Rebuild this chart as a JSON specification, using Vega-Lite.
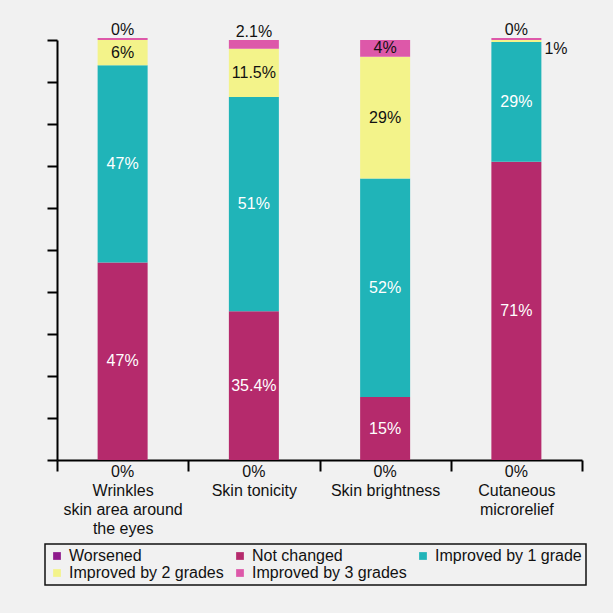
{
  "$schema": "https://vega.github.io/schema/vega-lite/v6.json",
  "width": 525,
  "height": 420,
  "autosize": "none",
  "padding": {"left": 57, "top": 40, "right": 31, "bottom": 153},
  "background": "#f1f1f1",
  "config": {
    "view": {"stroke": null},
    "font": "Liberation Sans",
    "text": {"font": "Liberation Sans", "fontSize": 16}
  },
  "data": {
    "values": [
      {"category": "Wrinkles skin area around the eyes", "status": "Worsened", "order": 0, "value": 0, "label": "0%"},
      {"category": "Wrinkles skin area around the eyes", "status": "Not changed", "order": 1, "value": 47, "label": "47%"},
      {"category": "Wrinkles skin area around the eyes", "status": "Improved by 1 grade", "order": 2, "value": 47, "label": "47%"},
      {"category": "Wrinkles skin area around the eyes", "status": "Improved by 2 grades", "order": 3, "value": 6, "label": "6%"},
      {"category": "Wrinkles skin area around the eyes", "status": "Improved by 3 grades", "order": 4, "value": 0.5, "label": "0%"},
      {"category": "Skin tonicity", "status": "Worsened", "order": 0, "value": 0, "label": "0%"},
      {"category": "Skin tonicity", "status": "Not changed", "order": 1, "value": 35.4, "label": "35.4%"},
      {"category": "Skin tonicity", "status": "Improved by 1 grade", "order": 2, "value": 51, "label": "51%"},
      {"category": "Skin tonicity", "status": "Improved by 2 grades", "order": 3, "value": 11.5, "label": "11.5%"},
      {"category": "Skin tonicity", "status": "Improved by 3 grades", "order": 4, "value": 2.1, "label": "2.1%"},
      {"category": "Skin brightness", "status": "Worsened", "order": 0, "value": 0, "label": "0%"},
      {"category": "Skin brightness", "status": "Not changed", "order": 1, "value": 15, "label": "15%"},
      {"category": "Skin brightness", "status": "Improved by 1 grade", "order": 2, "value": 52, "label": "52%"},
      {"category": "Skin brightness", "status": "Improved by 2 grades", "order": 3, "value": 29, "label": "29%"},
      {"category": "Skin brightness", "status": "Improved by 3 grades", "order": 4, "value": 4, "label": "4%"},
      {"category": "Cutaneous microrelief", "status": "Worsened", "order": 0, "value": 0, "label": "0%"},
      {"category": "Cutaneous microrelief", "status": "Not changed", "order": 1, "value": 71, "label": "71%"},
      {"category": "Cutaneous microrelief", "status": "Improved by 1 grade", "order": 2, "value": 28.5, "label": "29%"},
      {"category": "Cutaneous microrelief", "status": "Improved by 2 grades", "order": 3, "value": 0.5, "label": "1%"},
      {"category": "Cutaneous microrelief", "status": "Improved by 3 grades", "order": 4, "value": 0.5, "label": "0%"}
    ]
  },
  "transform": [
    {"stack": "value", "groupby": ["category"], "sort": [{"field": "order"}], "as": ["y0", "y1"]},
    {"calculate": "(datum.y0 + datum.y1) / 2", "as": "ymid"}
  ],
  "encoding": {
    "x": {
      "field": "category",
      "type": "nominal",
      "sort": ["Wrinkles skin area around the eyes", "Skin tonicity", "Skin brightness", "Cutaneous microrelief"],
      "scale": {"paddingInner": 0, "paddingOuter": 0},
      "axis": {
        "title": null,
        "labelAngle": 0,
        "domainColor": "#000",
        "domainWidth": 2,
        "tickColor": "#000",
        "tickWidth": 2,
        "tickSize": 11,
        "tickBand": "extent",
        "labelFont": "Liberation Sans",
        "labelFontSize": 16,
        "labelColor": "#111",
        "labelLineHeight": 19,
        "labelPadding": 11,
        "labelBaseline": "top",
        "labelExpr": "datum.value == 'Wrinkles skin area around the eyes' ? ['Wrinkles', 'skin area around', 'the eyes'] : datum.value == 'Cutaneous microrelief' ? ['Cutaneous', 'microrelief'] : datum.value",
        "labelLimit": 200
      }
    }
  },
  "layer": [
    {
      "mark": {"type": "bar", "size": 50},
      "encoding": {
        "y": {
          "field": "y0",
          "type": "quantitative",
          "scale": {"domain": [0, 100], "nice": false},
          "axis": {
            "title": null,
            "labels": false,
            "grid": false,
            "values": [0, 10, 20, 30, 40, 50, 60, 70, 80, 90, 100],
            "domainColor": "#000",
            "domainWidth": 2,
            "tickColor": "#000",
            "tickWidth": 2,
            "tickSize": 10
          }
        },
        "y2": {"field": "y1"},
        "color": {
          "field": "status",
          "type": "nominal",
          "scale": {
            "domain": ["Worsened", "Not changed", "Improved by 1 grade", "Improved by 2 grades", "Improved by 3 grades"],
            "range": ["#8e1a8c", "#b52a6c", "#20b4b8", "#f3f38a", "#dd58a9"]
          },
          "legend": {
            "title": null,
            "orient": "none",
            "legendX": -12,
            "legendY": 504,
            "direction": "horizontal",
            "columns": 3,
            "columnPadding": 8,
            "rowPadding": 1,
            "symbolType": "square",
            "symbolSize": 60,
            "symbolStrokeWidth": 0,
            "labelFont": "Liberation Sans",
            "labelFontSize": 16,
            "labelColor": "#111",
            "labelOffset": 4,
            "labelLimit": 300,
            "padding": 4,
            "strokeColor": "#111",
            "encode": {"legend": {"update": {"strokeWidth": {"value": 1.5}}}}
          }
        }
      }
    },
    {
      "transform": [{"filter": "datum.value >= 3"}],
      "mark": {"type": "text", "baseline": "middle", "fontSize": 16},
      "encoding": {
        "y": {"field": "ymid", "type": "quantitative"},
        "text": {"field": "label"},
        "color": {
          "condition": {"test": "datum.status == 'Not changed' || datum.status == 'Improved by 1 grade'", "value": "#ffffff"},
          "value": "#111111"
        }
      }
    },
    {
      "transform": [{"filter": "datum.status == 'Improved by 3 grades' && datum.value < 3"}],
      "mark": {"type": "text", "baseline": "middle", "fontSize": 16, "dy": -8, "color": "#111"},
      "encoding": {
        "y": {"field": "y1", "type": "quantitative"},
        "text": {"field": "label"}
      }
    },
    {
      "transform": [{"filter": "datum.status == 'Improved by 2 grades' && datum.value < 3"}],
      "mark": {"type": "text", "baseline": "middle", "align": "left", "fontSize": 16, "dx": 28, "dy": 7, "color": "#111"},
      "encoding": {
        "y": {"field": "y0", "type": "quantitative"},
        "text": {"field": "label"}
      }
    },
    {
      "transform": [{"filter": "datum.status == 'Worsened'"}],
      "mark": {"type": "text", "baseline": "middle", "fontSize": 16, "dy": 12, "color": "#111"},
      "encoding": {
        "y": {"field": "y0", "type": "quantitative"},
        "text": {"field": "label"}
      }
    }
  ]
}
